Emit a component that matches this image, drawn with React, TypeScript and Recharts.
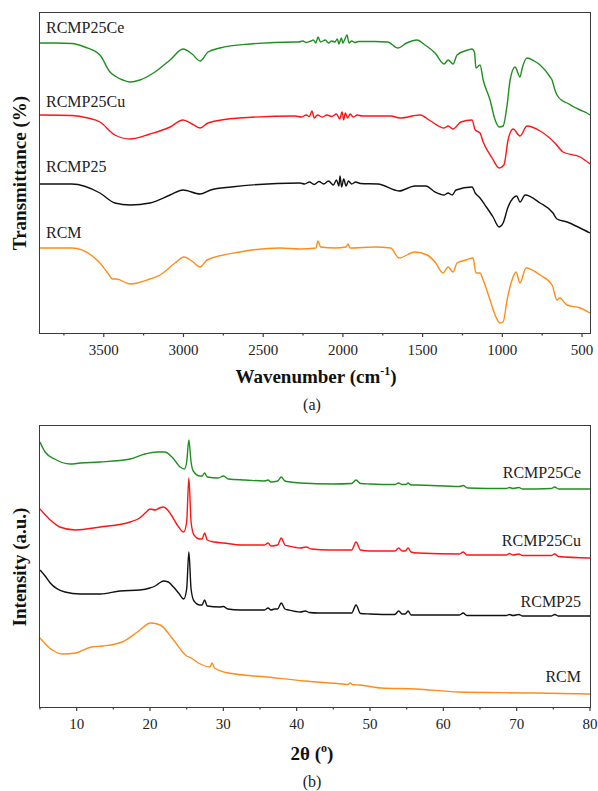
import React from 'react';
import { LineChart, Line, XAxis, YAxis } from 'recharts';

// FTIR spectra: [wavenumber cm-1, relative transmittance (a.u., stacked)]
const ftirCe: [number, number][] = [
  [3900, 290], [3800, 290], [3700, 289.5], [3620, 286], [3524, 278], [3461, 261], [3430, 257],
  [3380, 253], [3335, 251], [3273, 253], [3179, 261], [3084, 273], [3003, 284], [2946, 279],
  [2896, 272], [2846, 281], [2771, 285], [2583, 289], [2300, 291],
  [2280, 291], [2250, 292], [2230, 290.5], [2200, 292], [2185, 293], [2170, 290], [2156, 296],
  [2140, 291], [2110, 293], [2090, 290], [2070, 292], [2050, 291], [2035, 294], [2025, 289],
  [2010, 295], [2000, 290], [1990, 293], [1974, 298], [1962, 290], [1945, 292], [1925, 290.5],
  [1900, 291.5], [1800, 291.5], [1720, 291], [1654, 285], [1600, 290], [1535, 293], [1485, 288],
  [1422, 280], [1365, 269], [1340, 273], [1309, 269], [1284, 278], [1215, 283], [1190, 284],
  [1175, 281], [1165, 265], [1140, 268], [1120, 253], [1077, 233], [1045, 213], [1020, 206],
  [995, 207], [970, 228], [951, 253], [920, 266], [889, 256], [875, 265], [845, 275], [800, 272],
  [763, 268], [700, 256], [688, 253], [670, 243], [657, 238], [620, 232], [594, 230], [550, 226],
  [512, 223], [470, 220], [450, 218],
];

const ftirCu: [number, number][] = [
  [3900, 218], [3700, 217.5], [3600, 215], [3524, 211], [3430, 198], [3335, 194], [3210, 199],
  [3084, 206], [3003, 213], [2946, 209], [2896, 205], [2846, 210], [2650, 215], [2300, 217],
  [2260, 216], [2230, 218], [2210, 216.5], [2194, 222], [2180, 215], [2160, 218], [2130, 216],
  [2100, 218], [2070, 216.5], [2040, 219], [2020, 214], [2005, 221], [1995, 213], [1985, 220],
  [1970, 215], [1955, 219], [1935, 216], [1910, 218], [1880, 217], [1700, 217], [1642, 215],
  [1516, 218], [1450, 212], [1365, 205], [1340, 207], [1309, 204], [1260, 211], [1190, 213],
  [1170, 203], [1140, 200], [1120, 191], [1064, 175], [1020, 165], [990, 168], [964, 193],
  [932, 204], [889, 197], [845, 207], [763, 202], [670, 190], [619, 181], [512, 176], [450, 169],
];

const ftirP25: [number, number][] = [
  [3900, 149], [3700, 149], [3524, 140], [3430, 130], [3335, 128], [3210, 130], [3084, 138],
  [3003, 143], [2896, 139], [2830, 143], [2700, 146], [2270, 150], [2240, 149], [2210, 151],
  [2180, 148.5], [2150, 151.5], [2120, 149], [2090, 152], [2060, 148], [2040, 153], [2025, 147],
  [2018, 157], [2008, 146], [1995, 154], [1980, 147], [1965, 152], [1945, 149], [1920, 151],
  [1890, 149.5], [1780, 149], [1648, 142], [1548, 147], [1480, 147], [1422, 141], [1365, 138],
  [1340, 140], [1315, 138], [1290, 143], [1190, 146], [1170, 140], [1140, 135], [1100, 126],
  [1058, 116], [1020, 106], [995, 110], [964, 126], [932, 135], [910, 137], [889, 131],
  [857, 138], [763, 130], [682, 120], [657, 114], [594, 111], [512, 105], [450, 100],
];

const ftirRcm: [number, number][] = [
  [3900, 85], [3700, 85], [3524, 70], [3475, 60], [3445, 54], [3420, 54], [3335, 49], [3210, 54],
  [3147, 58], [3053, 70], [2997, 76], [2940, 71], [2896, 66], [2852, 73], [2646, 81], [2394, 85],
  [2269, 84], [2170, 85], [2156, 92], [2140, 86], [2050, 85], [1980, 86], [1968, 89], [1955, 85],
  [1800, 86], [1700, 85], [1648, 75], [1548, 81], [1472, 78], [1422, 71], [1372, 60], [1340, 66],
  [1309, 61], [1284, 70], [1227, 73], [1184, 75], [1165, 60], [1140, 60], [1120, 53], [1077, 33],
  [1040, 16], [1014, 10], [995, 11], [970, 33], [939, 53], [914, 61], [889, 50], [851, 65],
  [763, 58], [688, 48], [657, 33], [640, 35], [594, 28], [512, 25], [450, 20],
];

// XRD patterns: [2theta deg, intensity (a.u., stacked)]
const xrdCe: [number, number][] = [
  [5, 265], [5.7, 255], [7.0, 248], [9.1, 243], [10.5, 244], [13.2, 245], [17.3, 248], [19.3, 253],
  [21.0, 255], [22.0, 255], [23.0, 250], [24.1, 240], [24.7, 238], [25.0, 245], [25.3, 267],
  [25.6, 245], [25.9, 236], [26.8, 231], [27.1, 231], [27.45, 234], [27.8, 230], [29.3, 229],
  [30.0, 231], [30.7, 228], [33, 227], [35.6, 226], [36.1, 227], [36.5, 225], [37.4, 226],
  [37.9, 230], [38.4, 226], [39.1, 225], [40.5, 224], [45, 223], [47.5, 223.5], [48.1, 227],
  [48.7, 223.5], [50, 223], [53.4, 222.5], [53.9, 224], [54.4, 222.5], [54.9, 222.5], [55.2, 224],
  [55.6, 222], [56.3, 222], [62.2, 220.5], [62.7, 221.5], [63.3, 219], [68.6, 218.5], [69.0, 219.5],
  [69.5, 218.5], [70.3, 219.5], [70.8, 218], [74.7, 218.5], [75.2, 220], [75.7, 218], [80, 218],
];

const xrdCu: [number, number][] = [
  [5, 198], [6.4, 187], [7.7, 180], [9.8, 177], [13.2, 180], [17.3, 185], [18.6, 189], [19.5, 195],
  [20.0, 198], [20.7, 197], [21.3, 199], [21.8, 200], [22.4, 197], [22.9, 192], [23.9, 180],
  [24.6, 175], [25.0, 185], [25.3, 229], [25.6, 185], [26.0, 172], [26.8, 168], [27.1, 168],
  [27.45, 174], [27.8, 167], [28.8, 165], [30, 164], [32.5, 162], [35.6, 162], [36.1, 164],
  [36.5, 161], [37.4, 162], [37.9, 169], [38.4, 162], [38.9, 161], [40.5, 159], [41.3, 160],
  [42, 158], [44.5, 157], [47.5, 157], [48.1, 165], [48.7, 157], [50, 156], [53.4, 156],
  [53.9, 159], [54.4, 156], [54.8, 156], [55.2, 159], [55.6, 155], [56.5, 154], [62.2, 153],
  [62.7, 155], [63.2, 152], [68.6, 152], [69.0, 153.5], [69.5, 152], [70.3, 153], [70.8, 151.5],
  [74.7, 151.5], [75.2, 153], [75.7, 150.5], [80, 149],
];

const xrdP25: [number, number][] = [
  [5, 137], [5.7, 131], [6.4, 124], [8.4, 115], [10.5, 113], [13.2, 113], [15.9, 116], [18.6, 117],
  [20.0, 119], [20.7, 121], [21.5, 125], [21.8, 126], [22.5, 125], [23.2, 120], [23.9, 114],
  [24.6, 108], [25.0, 118], [25.3, 155], [25.6, 118], [26.0, 106], [26.8, 102], [27.1, 102],
  [27.45, 107], [27.8, 101], [29.5, 100], [30.0, 100.5], [30.6, 98], [32.3, 97], [35.6, 97],
  [36.1, 99], [36.5, 97], [37.0, 98], [37.4, 98], [37.9, 104], [38.4, 98], [38.9, 97], [40.5, 95],
  [41.2, 96], [41.7, 94.5], [43, 94], [47.5, 94], [48.1, 102], [48.7, 93.5], [50, 93], [53.4, 92.5],
  [53.9, 96], [54.4, 93], [54.8, 93], [55.2, 96], [55.6, 92], [56.2, 92], [62.2, 92], [62.7, 94],
  [63.2, 91.5], [68.6, 91.5], [69.0, 92.5], [69.5, 91.5], [70.3, 92.5], [70.8, 91], [74.7, 91],
  [75.2, 92.5], [75.7, 91], [80, 91],
];

const xrdRcm: [number, number][] = [
  [5, 69], [6.3, 59], [8.1, 53], [9.9, 54], [12.0, 60], [13.6, 61], [16.2, 65], [18.3, 75],
  [20.1, 84], [21.4, 82], [23, 69], [25.0, 51], [25.6, 49], [26.6, 44], [28.2, 40], [28.45, 44],
  [28.8, 39], [30.7, 34], [35.9, 30], [41.1, 26], [46.3, 23], [47.0, 22.5], [47.3, 24], [47.6, 22.5],
  [48.6, 22], [51.5, 19], [56.3, 18], [62, 15], [72.4, 14], [80, 13],
];

const ftirTicks = [3750, 3500, 3250, 3000, 2750, 2500, 2250, 2000, 1750, 1500, 1250, 1000, 750, 500];
const xrdTicks = [5, 10, 15, 20, 25, 30, 35, 40, 45, 50, 55, 60, 65, 70, 75, 80];

const ftirSeries = [
  { name: 'RCMP25Ce', data: ftirCe, color: '#1f8f1f' },
  { name: 'RCMP25Cu', data: ftirCu, color: '#ff1414' },
  { name: 'RCMP25', data: ftirP25, color: '#111111' },
  { name: 'RCM', data: ftirRcm, color: '#ff8c1a' },
];
const xrdSeries = [
  { name: 'RCMP25Ce', data: xrdCe, color: '#1f8f1f' },
  { name: 'RCMP25Cu', data: xrdCu, color: '#ff1414' },
  { name: 'RCMP25', data: xrdP25, color: '#111111' },
  { name: 'RCM', data: xrdRcm, color: '#ff8c1a' },
];

const FONT = '"Liberation Serif", "Times New Roman", serif';
const AXIS = '#3a3a3a';

const toRows = (pts: [number, number][]) => pts.map(([x, y]) => ({ x, y }));

const makeTick = (isMajor: (v: number) => boolean) => (props: any) => {
  const { x, y, payload } = props;
  const major = isMajor(payload.value);
  return (
    <g>
      <line x1={x} x2={x} y1={y} y2={y + (major ? 4 : 2.5)} stroke={AXIS} strokeWidth={1.2} />
      {major && (
        <text x={x} y={y + 17} dy="0.35em" textAnchor="middle" fontSize={15} fontFamily={FONT} fill="#222">
          {payload.value}
        </text>
      )}
    </g>
  );
};

const label = (text: string, style: React.CSSProperties) => (
  <div style={{ position: 'absolute', fontFamily: FONT, fontSize: 16, lineHeight: '16px', color: '#222', whiteSpace: 'nowrap', ...style }}>
    {text}
  </div>
);

// plot frame drawn over the chart
const box = (top: number, height: number) => (
  <div style={{ position: 'absolute', left: 39, top: top - 1, width: 552, height: height + 2, boxSizing: 'border-box', border: `1.4px solid ${AXIS}`, pointerEvents: 'none' }} />
);

const titleStyle: React.CSSProperties = { position: 'absolute', fontSize: 19, fontWeight: 'bold', whiteSpace: 'nowrap', color: '#111' };

export default function App() {
  const ftirTick = makeTick((v) => v % 500 === 0);
  const xrdTick = makeTick((v) => v % 10 === 0);
  return (
    <div style={{ position: 'absolute', left: 0, top: 0, width: 598, height: 791, background: '#fff', fontFamily: FONT }}>
      {/* (a) FTIR */}
      <div style={{ position: 'absolute', left: 0, top: 0 }}>
        <LineChart width={598} height={420} margin={{ top: 13, right: 8, bottom: 57, left: 40 }}>
          <XAxis dataKey="x" type="number" domain={[450, 3900]} reversed ticks={ftirTicks} tick={ftirTick}
            tickLine={false} tickSize={0} tickMargin={0} height={30} axisLine={false} allowDataOverflow interval={0} />
          <YAxis type="number" domain={[0, 320]} width={0} tick={false} tickLine={false} axisLine={false} />
          {ftirSeries.map((s) => (
            <Line key={s.name} data={toRows(s.data)} dataKey="y" type="monotone"
              stroke={s.color} strokeWidth={1.4} dot={false} isAnimationActive={false} />
          ))}
        </LineChart>
      </div>
      {box(13, 320)}
      {label('RCMP25Ce', { left: 46, top: 20 })}
      {label('RCMP25Cu', { left: 46, top: 94 })}
      {label('RCMP25', { left: 46, top: 159 })}
      {label('RCM', { left: 46, top: 225 })}
      <div style={{ ...titleStyle, left: 20, top: 173, transform: 'translate(-50%, -50%) rotate(-90deg)' }}>
        Transmittance (%)
      </div>
      <div style={{ ...titleStyle, left: 316, top: 376, transform: 'translate(-50%, -50%)' }}>
        Wavenumber (cm<sup style={{ fontSize: 12 }}>-1</sup>)
      </div>
      <div style={{ position: 'absolute', left: 312, top: 405, transform: 'translate(-50%, -50%)', fontSize: 16, color: '#222' }}>(a)</div>

      {/* (b) XRD */}
      <div style={{ position: 'absolute', left: 0, top: 420 }}>
        <LineChart width={598} height={371} margin={{ top: 6, right: 8, bottom: 54, left: 40 }}>
          <XAxis dataKey="x" type="number" domain={[5, 80]} ticks={xrdTicks} tick={xrdTick}
            tickLine={false} tickSize={0} tickMargin={0} height={30} axisLine={false} allowDataOverflow interval={0} />
          <YAxis type="number" domain={[0, 281]} width={0} tick={false} tickLine={false} axisLine={false} />
          {xrdSeries.map((s) => (
            <Line key={s.name} data={toRows(s.data)} dataKey="y" type="monotone"
              stroke={s.color} strokeWidth={1.4} dot={false} isAnimationActive={false} />
          ))}
        </LineChart>
      </div>
      {box(426, 281)}
      {label('RCMP25Ce', { right: 17, top: 465 })}
      {label('RCMP25Cu', { right: 17, top: 533 })}
      {label('RCMP25', { right: 17, top: 594 })}
      {label('RCM', { right: 17, top: 669 })}
      <div style={{ ...titleStyle, left: 20, top: 567, transform: 'translate(-50%, -50%) rotate(-90deg)' }}>
        Intensity (a.u.)
      </div>
      <div style={{ ...titleStyle, left: 312, top: 753, transform: 'translate(-50%, -50%)' }}>
        2θ (<sup style={{ fontSize: 12 }}>o</sup>)
      </div>
      <div style={{ position: 'absolute', left: 312, top: 782, transform: 'translate(-50%, -50%)', fontSize: 16, color: '#222' }}>(b)</div>
    </div>
  );
}
